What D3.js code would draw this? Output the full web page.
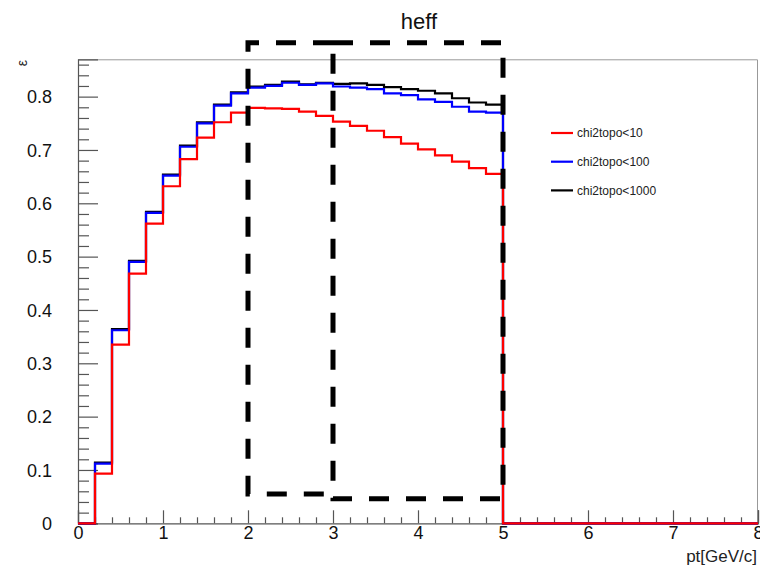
<!DOCTYPE html>
<html>
<head>
<meta charset="utf-8">
<script src="https://cdn.jsdelivr.net/npm/d3@7"></script>
<style>
  body { margin: 0; background: #fff; }
  text { font-family: "Liberation Sans", Arial, sans-serif; }
</style>
</head>
<body>
<div class="canvas"></div>
<script>
// data: 40 bins of width 0.2 from 0 to 8 (efficiency per bin)
const binEdges = d3.range(0, 8.0001, 0.2)
const effChi10 = [0, 0.093, 0.335, 0.468, 0.562, 0.632, 0.683, 0.723, 0.752, 0.770,
  0.779, 0.778, 0.777, 0.772, 0.764, 0.753, 0.745, 0.736, 0.724, 0.712,
  0.701, 0.690, 0.678, 0.666, 0.655,
  0, 0, 0, 0, 0, 0, 0, 0, 0, 0, 0, 0, 0, 0, 0]
const effChi100 = [0, 0.112, 0.362, 0.490, 0.582, 0.652, 0.706, 0.750, 0.783, 0.806,
  0.817, 0.820, 0.826, 0.822, 0.825, 0.819, 0.817, 0.814, 0.806, 0.803,
  0.795, 0.790, 0.781, 0.772, 0.770,
  0, 0, 0, 0, 0, 0, 0, 0, 0, 0, 0, 0, 0, 0, 0]
const effChi1000 = [0, 0.114, 0.364, 0.492, 0.584, 0.654, 0.708, 0.752, 0.785, 0.808,
  0.819, 0.822, 0.828, 0.823, 0.826, 0.824, 0.825, 0.822, 0.818, 0.814,
  0.811, 0.806, 0.797, 0.789, 0.785,
  0, 0, 0, 0, 0, 0, 0, 0, 0, 0, 0, 0, 0, 0, 0]

const seriesNames = ['chi2topo<10', 'chi2topo<100', 'chi2topo<1000']
const seriesColors = ['#ff0000', '#0000ff', '#000000']

const xTicks = [0, 1, 2, 3, 4, 5, 6, 7, 8]
const yTicks = [0, 0.1, 0.2, 0.3, 0.4, 0.5, 0.6, 0.7, 0.8]

// dashed annotation boxes drawn on top, in data coords [x0, x1, y0, y1]
// the first one is open on its right side (it shares x=3 with the second)
const boxes = [[2.0, 3.0, 0.055, 0.901], [3.0, 5.0, 0.046, 0.901]]

const svgWidth = 760
const svgHeight = 568
const margin = {top: 59.3, right: 2, bottom: 44.7, left: 78}
const graphWidth = svgWidth - margin.left - margin.right
const graphHeight = svgHeight - margin.top - margin.bottom

const svg = d3.select('.canvas')
  .append('svg')
  .attr('width', svgWidth)
  .attr('height', svgHeight)

const graph = svg.append('g')
  .attr('transform', `translate(${margin.left}, ${margin.top})`)

const x = d3.scaleLinear().domain([0, 8]).range([0, graphWidth])
const y = d3.scaleLinear().domain([0, 0.87]).range([graphHeight, 0])

// frame (top and right)
graph.append('path')
  .attr('d', `M0,0.5H${graphWidth - 0.5}V${graphHeight}`)
  .attr('fill', 'none')
  .attr('stroke', '#999')
  .attr('stroke-width', 1)

// axes: ticks pointing inward
const yAxisGroup = graph.append('g')
  .call(d3.axisLeft(y).tickValues(yTicks).tickSize(-20).tickPadding(26).tickFormat(d => d === 0 ? '0' : d3.format('.1f')(d)))
const yMinor = graph.append('g')
  .call(d3.axisLeft(y).tickValues(d3.range(0, 0.8701, 0.02).filter(v => Math.abs(v * 10 - Math.round(v * 10)) > 0.01)).tickSize(-11).tickFormat(''))

const xAxisGroup = graph.append('g')
  .attr('transform', `translate(0, ${graphHeight})`)
  .call(d3.axisBottom(x).tickValues(xTicks).tickSize(-13).tickPadding(3).tickFormat(d3.format('d')))
const xMinor = graph.append('g')
  .attr('transform', `translate(0, ${graphHeight})`)
  .call(d3.axisBottom(x).tickValues(binEdges.filter(v => Math.abs(v - Math.round(v)) > 0.01)).tickSize(-6).tickFormat(''))

graph.selectAll('.domain').attr('stroke', '#555').attr('stroke-width', 1.2)
graph.selectAll('.tick line').attr('stroke', '#555').attr('stroke-width', 1.2)
yAxisGroup.selectAll('text').attr('font-size', '18px').attr('fill', '#111').attr('dy', '0.35em')
xAxisGroup.selectAll('text').attr('font-size', '18px').attr('fill', '#111')
xMinor.select('.domain').remove()
yMinor.select('.domain').remove()

// histogram outlines
const line = d3.line()
  .x(d => x(d[0]))
  .y(d => y(d[1]))

const stepPoints = vals => vals.flatMap((v, i) => [[binEdges[i], v], [binEdges[i + 1], v]])

const allSeries = [effChi10, effChi100, effChi1000]
// draw black first, then blue, red on top
;[2, 1, 0].forEach(k => {
  graph.append('path')
    .datum(stepPoints(allSeries[k]))
    .attr('fill', 'none')
    .attr('stroke', seriesColors[k])
    .attr('stroke-width', 2.2)
    .attr('d', line)
})

// dashed boxes
boxes.forEach((b, i) => {
  const pts = i === 0
    ? [[b[1], b[3]], [b[0], b[3]], [b[0], b[2]], [b[1], b[2]]]
    : [[b[0], b[3]], [b[1], b[3]], [b[1], b[2]], [b[0], b[2]], [b[0], b[3]]]
  graph.append('path')
    .datum(pts)
    .attr('d', line)
    .attr('fill', 'none')
    .attr('stroke', '#000')
    .attr('stroke-width', 5)
    .attr('stroke-dasharray', '20 17')
})

// title
svg.append('text')
  .text('heff')
  .attr('x', 419)
  .attr('y', 29)
  .attr('text-anchor', 'middle')
  .attr('font-size', '22px')
  .attr('fill', '#111')

// axis titles
svg.append('text')
  .text('pt[GeV/c]')
  .attr('x', 757)
  .attr('y', 562)
  .attr('text-anchor', 'end')
  .attr('font-size', '17px')
  .attr('fill', '#222')

svg.append('text')
  .text('ε')
  .attr('transform', 'translate(27, 60) rotate(-90)')
  .attr('text-anchor', 'end')
  .attr('font-size', '14px')
  .attr('fill', '#222')

// legend
const legend = svg.append('g')
  .attr('transform', 'translate(551, 133)')

seriesNames.forEach((name, i) => {
  const row = legend.append('g').attr('transform', `translate(0, ${i * 28.7})`)
  row.append('line')
    .attr('x1', 0).attr('x2', 22)
    .attr('stroke', seriesColors[i])
    .attr('stroke-width', 2.2)
  row.append('text')
    .text(name)
    .attr('x', 26)
    .attr('dy', '0.35em')
    .attr('font-size', '12px')
    .attr('fill', '#222')
})
</script>
</body>
</html>
